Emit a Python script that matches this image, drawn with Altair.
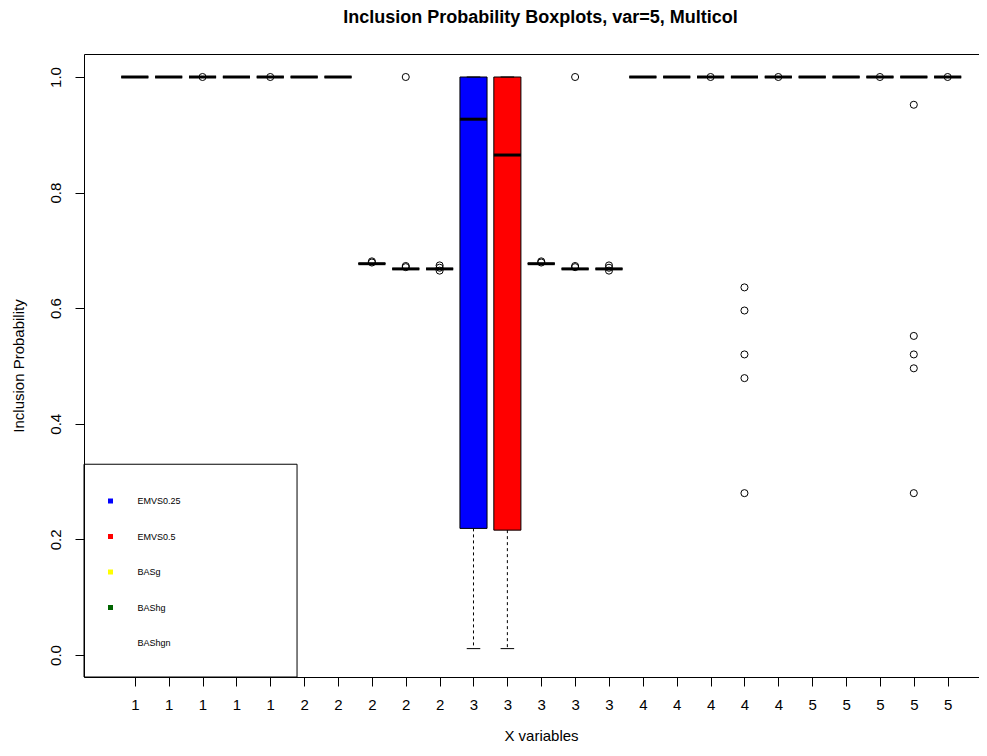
import altair as alt
import pandas as pd

# ---------------- data ----------------
positions = list(range(1, 26))
x_labels = ["1"] * 5 + ["2"] * 5 + ["3"] * 5 + ["4"] * 5 + ["5"] * 5
methods = ["EMVS0.25", "EMVS0.5", "BASg", "BAShg", "BAShgn"]
method_colors = ["#0000ff", "#ff0000", "#ffff00", "#006400", "#ffffff"]

box_lower = [1.0, 1.0, 1.0, 1.0, 1.0,
             1.0, 1.0, 0.677, 0.668, 0.668,
             0.219, 0.216, 0.677, 0.668, 0.668,
             1.0, 1.0, 1.0, 1.0, 1.0,
             1.0, 1.0, 1.0, 1.0, 1.0]
box_median = [1.0, 1.0, 1.0, 1.0, 1.0,
              1.0, 1.0, 0.677, 0.668, 0.668,
              0.927, 0.865, 0.677, 0.668, 0.668,
              1.0, 1.0, 1.0, 1.0, 1.0,
              1.0, 1.0, 1.0, 1.0, 1.0]
box_upper = [1.0, 1.0, 1.0, 1.0, 1.0,
             1.0, 1.0, 0.677, 0.668, 0.668,
             1.0, 1.0, 0.677, 0.668, 0.668,
             1.0, 1.0, 1.0, 1.0, 1.0,
             1.0, 1.0, 1.0, 1.0, 1.0]
whisker_lower = [1.0, 1.0, 1.0, 1.0, 1.0,
                 1.0, 1.0, 0.677, 0.668, 0.668,
                 0.011, 0.011, 0.677, 0.668, 0.668,
                 1.0, 1.0, 1.0, 1.0, 1.0,
                 1.0, 1.0, 1.0, 1.0, 1.0]
whisker_upper = box_upper

outlier_pos = [3, 5,
               8, 8, 9, 9, 9, 10, 10, 10,
               13, 13, 14, 14, 14, 15, 15, 15,
               18, 19, 19, 19, 19, 19, 20,
               23, 24, 24, 24, 24, 24, 25]
outlier_val = [1.0, 1.0,
               0.681, 0.679, 1.0, 0.673, 0.671, 0.674, 0.670, 0.665,
               0.681, 0.679, 1.0, 0.673, 0.671, 0.674, 0.670, 0.665,
               1.0, 0.636, 0.596, 0.520, 0.479, 0.280, 1.0,
               1.0, 0.952, 0.552, 0.520, 0.496, 0.280, 1.0]

# ---------------- layout constants ----------------
FONT = "Liberation Sans"
W, H = 895, 623
X_DOMAIN = [-0.5, 25.925]
Y_DOMAIN = [-0.0381, 1.0398]
HALF_BOX = 0.4
HALF_CAP = 0.2
LEGEND_FRAME = {"x0": -0.5, "x1": 5.79, "y0": -0.0381, "y1": 0.330}

boxes = pd.DataFrame({
    "pos": positions,
    "method": [methods[(p - 1) % 5] for p in positions],
    "q1": box_lower,
    "med": box_median,
    "q3": box_upper,
    "wlo": whisker_lower,
    "whi": whisker_upper,
})
boxes["xl"] = boxes["pos"] - HALF_BOX
boxes["xr"] = boxes["pos"] + HALF_BOX
boxes["cl"] = boxes["pos"] - HALF_CAP
boxes["cr"] = boxes["pos"] + HALF_CAP

outliers = pd.DataFrame({"pos": outlier_pos, "val": outlier_val})
frame = pd.DataFrame([LEGEND_FRAME])

xs = alt.Scale(domain=X_DOMAIN, nice=False, zero=False)
ys = alt.Scale(domain=Y_DOMAIN, nice=False, zero=False)

label_expr = "[" + ",".join("'%s'" % l for l in x_labels) + "][datum.value - 1]"

x_axis = alt.Axis(
    values=positions, labelExpr=label_expr, title="X variables",
    tickSize=9, labelPadding=18, labelBaseline="middle", labelAlign="center",
    titleX=457, titleY=58, titleBaseline="middle", titleAlign="center",
    labelOverlap=False, grid=False,
)
y_axis = alt.Axis(
    values=[0, 0.2, 0.4, 0.6, 0.8, 1.0], format=".1f", title="Inclusion Probability",
    tickSize=9, labelPadding=20, labelAngle=270, labelAlign="center",
    labelBaseline="middle", titleX=-66, titleY=H / 2, titleAngle=270,
    titleAlign="center", titleBaseline="middle", grid=False,
)
top_axis = alt.Axis(orient="top", labels=False, ticks=False, title=None,
                    domain=True, grid=False)

base = alt.Chart(boxes)

box_layer = base.mark_rect(stroke="black", strokeWidth=1).encode(
    x=alt.X("xl:Q", scale=xs, axis=x_axis),
    x2="xr:Q",
    y=alt.Y("q1:Q", scale=ys, axis=y_axis),
    y2="q3:Q",
    fill=alt.Fill(
        "method:N",
        scale=alt.Scale(domain=methods, range=method_colors),
        legend=alt.Legend(
            orient="none", legendX=22, legendY=442.5, title=None,
            labelFont=FONT, labelFontSize=9, labelColor="black",
            symbolType="square", symbolSize=25, symbolStrokeWidth=0,
            rowPadding=25.5, labelOffset=22.5, padding=0,
        ),
    ),
)

whisker_lo = base.mark_rule(color="black", strokeWidth=1, strokeDash=[3, 3]).encode(
    x=alt.X("pos:Q", scale=xs, axis=None),
    y=alt.Y("q1:Q", scale=ys),
    y2="wlo:Q",
)
whisker_hi = base.mark_rule(color="black", strokeWidth=1, strokeDash=[3, 3]).encode(
    x=alt.X("pos:Q", scale=xs, axis=None),
    y=alt.Y("q3:Q", scale=ys),
    y2="whi:Q",
)
cap_lo = base.mark_rule(color="black", strokeWidth=1).encode(
    x=alt.X("cl:Q", scale=xs, axis=None), x2="cr:Q",
    y=alt.Y("wlo:Q", scale=ys),
)
cap_hi = base.mark_rule(color="black", strokeWidth=1).encode(
    x=alt.X("cl:Q", scale=xs, axis=None), x2="cr:Q",
    y=alt.Y("whi:Q", scale=ys),
)
median_layer = base.mark_rule(color="black", strokeWidth=3).encode(
    x=alt.X("xl:Q", scale=xs, axis=None), x2="xr:Q",
    y=alt.Y("med:Q", scale=ys),
)
outlier_layer = alt.Chart(outliers).mark_point(
    shape="circle", filled=False, size=50, stroke="black", strokeWidth=1, opacity=1
).encode(
    x=alt.X("pos:Q", scale=xs, axis=None),
    y=alt.Y("val:Q", scale=ys),
)
frame_layer = alt.Chart(frame).mark_rect(
    fill="transparent", stroke="black", strokeWidth=1
).encode(
    x=alt.X("x0:Q", scale=xs, axis=top_axis), x2="x1:Q",
    y=alt.Y("y0:Q", scale=ys), y2="y1:Q",
)

chart = alt.layer(
    box_layer, whisker_lo, whisker_hi, cap_lo, cap_hi, median_layer,
    outlier_layer, frame_layer,
).resolve_axis(x="independent").properties(
    width=W, height=H,
    autosize=alt.AutoSizeParams(type="none"),
    padding={"left": 76, "top": 46, "right": 0, "bottom": 68},
    title=alt.TitleParams(
        "Inclusion Probability Boxplots, var=5, Multicol",
        font=FONT, fontSize=18, fontWeight="bold", color="black",
        anchor="middle", dx=9, offset=13, baseline="alphabetic",
    ),
).configure_view(stroke=None).configure_axis(
    domainColor="black", tickColor="black", labelColor="black", titleColor="black",
    labelFont=FONT, titleFont=FONT, labelFontSize=15, titleFontSize=15,
    titleFontWeight="normal", domainWidth=1, tickWidth=1,
)

chart.save("out.html", embed_options={"renderer": "svg", "actions": False})
